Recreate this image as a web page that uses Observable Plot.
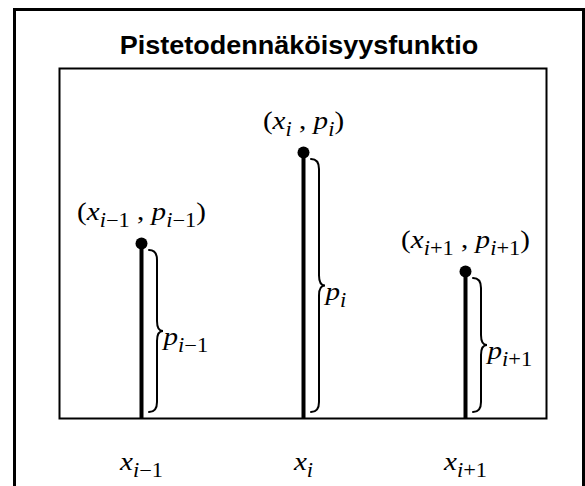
<!DOCTYPE html>
<html>
<head>
<meta charset="utf-8">
<script src="https://cdn.jsdelivr.net/npm/d3@7"></script>
<script src="https://cdn.jsdelivr.net/npm/@observablehq/plot@0.6"></script>
<style>
  html, body { margin: 0; padding: 0; background: #fff; }
  #wrap { position: relative; width: 585px; height: 486px; overflow: hidden; }
  #chart { position: absolute; left: 0; top: 0; }
  #chart text { font-family: "Liberation Serif", "Times New Roman", serif; }
  #outer {
    position: absolute; left: 13px; top: 8px; width: 572px; height: 520px;
    border: 3px solid #000; box-sizing: border-box;
  }
  #title {
    position: absolute; left: 13px; width: 572px; top: 31px;
    text-align: center; line-height: 26px;
    font: bold 25px "Liberation Sans", Arial, sans-serif; color: #000;
    transform: scaleX(1.08);
  }
</style>
</head>
<body>
<div id="wrap">
  <div id="chart"></div>
  <div id="outer"></div>
  <div id="title">Pistetodennäköisyysfunktio</div>
</div>
<script>
// Outcomes x and their point probabilities p (TeX-like "_{...}" marks a subscript)
const xLabels = ["x_{i−1}", "x_{i}", "x_{i+1}"];
const pValues = [0.5, 0.76, 0.42];
const pointLabels = ["(x_{i−1} , p_{i−1})", "(x_{i} , p_{i})", "(x_{i+1} , p_{i+1})"];
const braceLabels = ["p_{i−1}", "p_{i}", "p_{i+1}"];

const rows = xLabels.map((x, i) => ({x, p: pValues[i], point: pointLabels[i], brace: braceLabels[i]}));

const baseSize = 26, subSize = 20, subShift = 7, widen = 1.12;

// Curly brace beside each stem, spanning from just under the dot down to the baseline
function braces(index, scales) {
  const g = d3.create("svg:g")
    .attr("fill", "none").attr("stroke", "black")
    .attr("stroke-width", 2).attr("stroke-linecap", "round");
  for (const r of rows) {
    const xs = scales.x(r.x);
    const top = scales.y(r.p) + 7, bot = scales.y(0) - 6, mid = (top + bot) / 2;
    const x0 = xs + 8, xm = xs + 16, xt = xs + 22, k = 10;
    g.append("path").attr("d",
      `M${x0},${top} Q${xm},${top} ${xm},${top + k} L${xm},${mid - k} ` +
      `Q${xm},${mid} ${xt},${mid} Q${xm},${mid} ${xm},${mid + k} ` +
      `L${xm},${bot - k} Q${xm},${bot} ${x0},${bot}`);
  }
  return g.node();
}

const serif = {fontSize: baseSize, fontFamily: "Liberation Serif, Times New Roman, serif"};

const chart = Plot.plot({
  width: 585,
  height: 486,
  marginLeft: 59,
  marginRight: 39,
  marginTop: 68,
  marginBottom: 68,
  style: {background: "transparent", color: "black"},
  x: {type: "point", domain: xLabels, padding: 0.5, axis: null},
  y: {domain: [0, 1], axis: null},
  marks: [
    Plot.frame({stroke: "black", strokeWidth: 2}),
    Plot.ruleX(rows, {x: "x", y1: 0, y2: "p", stroke: "black", strokeWidth: 4}),
    Plot.dot(rows, {x: "x", y: "p", r: 6, fill: "black", stroke: null}),
    braces,
    Plot.text(rows, {x: "x", y: "p", text: "point", dy: -32, lineAnchor: "middle", ...serif}),
    Plot.text(rows, {x: "x", y: d => d.p / 2, text: "brace", dx: 22, dy: 6, textAnchor: "start", lineAnchor: "middle", ...serif}),
    Plot.text(rows, {x: "x", text: "x", frameAnchor: "bottom", dy: 43, lineAnchor: "middle", ...serif})
  ]
});

// Typeset "_{...}" as subscripts, letters in italic, slightly widened glyphs
function typeset(el) {
  const s = el.textContent;
  if (!s.includes("_{")) return;
  const segs = [];
  const re = /_\{([^}]*)\}/g;
  let last = 0, m;
  while ((m = re.exec(s))) {
    if (m.index > last) segs.push({t: s.slice(last, m.index), sub: false});
    segs.push({t: m[1], sub: true});
    last = re.lastIndex;
  }
  if (last < s.length) segs.push({t: s.slice(last), sub: false});
  el.textContent = "";
  const ns = "http://www.w3.org/2000/svg";
  let level = false;
  for (const seg of segs) {
    const runs = seg.t.match(/[a-z]+|[^a-z]+/g) || [];
    runs.forEach((run, j) => {
      const ts = document.createElementNS(ns, "tspan");
      ts.textContent = run;
      if (/[a-z]/.test(run)) ts.setAttribute("font-style", "italic");
      if (seg.sub) ts.setAttribute("font-size", subSize);
      if (j === 0 && seg.sub !== level) ts.setAttribute("dy", seg.sub ? subShift : -subShift);
      el.appendChild(ts);
    });
    level = seg.sub;
  }
  const x = +el.getAttribute("x") || 0, y = +el.getAttribute("y") || 0;
  const t = el.getAttribute("transform") || "";
  el.setAttribute("transform", `${t} translate(${x},${y}) scale(${widen},1) translate(${-x},${-y})`);
}
chart.querySelectorAll("text").forEach(typeset);

document.getElementById("chart").appendChild(chart);
</script>
</body>
</html>
